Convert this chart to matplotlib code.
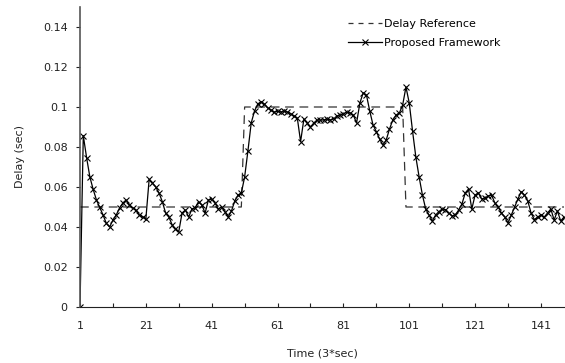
import matplotlib
matplotlib.use("Agg")
import matplotlib.pyplot as plt
from matplotlib.lines import Line2D
import numpy as np

proposed = [
    0.000, 0.0857, 0.0747, 0.065, 0.0588, 0.0535, 0.0498, 0.046, 0.0418, 0.040,
    0.0435, 0.046, 0.0495, 0.052, 0.0535, 0.051, 0.0495, 0.0485, 0.046, 0.045,
    0.044, 0.0638, 0.062, 0.060, 0.057, 0.0527, 0.047, 0.045, 0.041, 0.039,
    0.0377, 0.047, 0.0485, 0.045, 0.049, 0.0497, 0.0527, 0.051, 0.047, 0.0535,
    0.054, 0.052, 0.049, 0.050, 0.0477, 0.045, 0.048, 0.053, 0.056, 0.057,
    0.065, 0.078, 0.092, 0.098, 0.1015, 0.1027, 0.1015, 0.0995, 0.0985, 0.0975,
    0.0978, 0.0975, 0.098, 0.0975, 0.0965, 0.0955, 0.0945, 0.0827, 0.094, 0.092,
    0.090, 0.092, 0.0935, 0.0935, 0.0935, 0.094, 0.0935, 0.094, 0.0955, 0.096,
    0.0965, 0.0975, 0.097, 0.096, 0.092, 0.102, 0.107, 0.106, 0.098, 0.091,
    0.0877, 0.084, 0.081, 0.0835, 0.089, 0.0935, 0.096, 0.097, 0.101, 0.110,
    0.102, 0.088, 0.075, 0.065, 0.056, 0.049, 0.046, 0.043, 0.046, 0.0477,
    0.049, 0.0487, 0.047, 0.0455, 0.046, 0.0485, 0.0515, 0.057, 0.059, 0.049,
    0.056, 0.057, 0.054, 0.0545, 0.0555, 0.056, 0.052, 0.050, 0.047, 0.045,
    0.042, 0.046, 0.050, 0.054, 0.0577, 0.056, 0.053, 0.047, 0.0437, 0.045,
    0.046, 0.045, 0.047, 0.049, 0.0435, 0.048, 0.043, 0.045,
]
reference_levels = [0.05, 0.10, 0.05]
reference_lengths = [50, 49, 49]
series_names = ["Delay Reference", "Proposed Framework"]

time = np.arange(1, len(proposed) + 1)
reference = np.repeat(reference_levels, reference_lengths)

x_tick_values = list(range(1, 149, 10))
x_tick_labels = [str(v) if (v - 1) % 20 == 0 else "" for v in x_tick_values]
y_tick_values = [0, 0.02, 0.04, 0.06, 0.08, 0.1, 0.12, 0.14]
y_tick_labels = ["0", "0.02", "0.04", "0.06", "0.08", "0.1", "0.12", "0.14"]

plt.rcParams["font.family"] = ["DejaVu Sans"]
fig = plt.figure(figsize=(5.65, 3.63), dpi=100)
ax = fig.add_axes([80 / 565, 1 - 307 / 363, 484 / 565, 300 / 363])

ax.plot(time, reference, color="#333333", linestyle=(0, (7, 4.5)), linewidth=0.9)
ax.plot(time, proposed, color="black", linewidth=0.9, marker="x", markersize=4.5,
        markeredgewidth=0.8)

ax.set_xlim(1, 148)
ax.set_ylim(0, 0.15)
ax.set_xticks(x_tick_values)
ax.set_xticklabels(x_tick_labels)
ax.set_yticks(y_tick_values)
ax.set_yticklabels(y_tick_labels)
ax.tick_params(axis="x", direction="in", length=3, width=0.8, colors="#222222",
               labelsize=8, pad=10)
ax.tick_params(axis="y", direction="out", length=3, width=0.8, colors="#222222",
               labelsize=8, pad=6)
for side in ["top", "right"]:
    ax.spines[side].set_visible(False)
ax.spines["left"].set_color("#555555")
ax.spines["left"].set_linewidth(1.2)
ax.spines["bottom"].set_color("#222222")
ax.spines["bottom"].set_linewidth(0.8)

ax.set_xlabel("Time (3*sec)", fontsize=8, color="#222222", labelpad=13)
ax.set_ylabel("Delay (sec)", fontsize=8, color="#222222", labelpad=13)

handles = [
    Line2D([], [], color="#333333", linestyle=(0, (4, 4)), linewidth=0.9),
    Line2D([], [], color="black", linewidth=0.9, marker="x", markersize=4.5,
           markeredgewidth=0.8),
]
ax.legend(handles, series_names, loc="upper left", bbox_to_anchor=(0.545, 0.975),
          frameon=False, fontsize=8, handlelength=3.0, handletextpad=0.2,
          labelspacing=0.8, borderaxespad=0)

fig.savefig("out.png", dpi=100)
